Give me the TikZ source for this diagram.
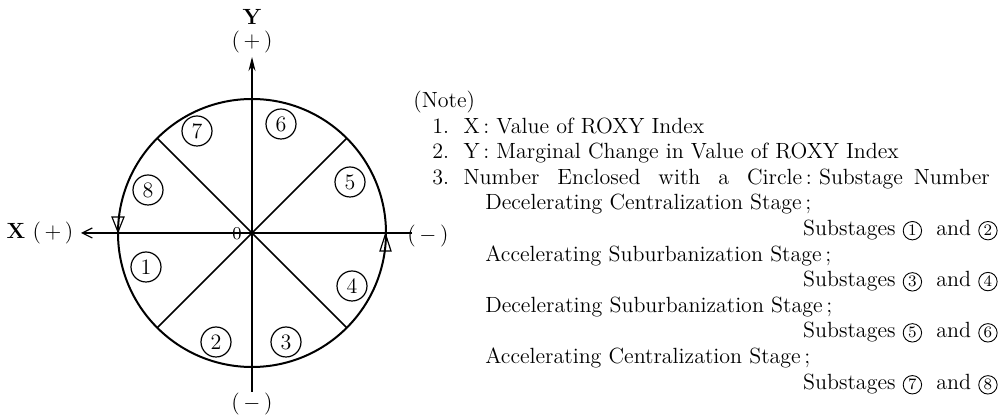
\documentclass[tikz,border=0pt]{standalone}
\usepackage{fontspec}
\usetikzlibrary{arrows.meta}
\newcommand{\cnum}[1]{\tikz[baseline=(cc.base)]\node[draw,circle,anchor=center,inner sep=0pt,line width=0.45pt,minimum size=9.2pt,font=\fontsize{8}{9}\selectfont](cc){#1};}
\begin{document}
\begin{tikzpicture}[x=0.5pt,y=-0.5pt,
  ax/.style={line width=0.6pt},
  rimline/.style={line width=1pt},
  spoke/.style={line width=0.75pt},
  cn/.style={draw,circle,line width=0.6pt,minimum size=15pt,inner sep=0pt,font=\fontsize{11}{12}\selectfont},
  lab/.style={inner sep=0pt,font=\fontsize{11}{12}\selectfont},
  note/.style={anchor=base west,inner sep=0pt,font=\fontsize{11}{12}\selectfont},
  notee/.style={anchor=base east,inner sep=0pt,font=\fontsize{11}{12}\selectfont},
  tri/.style={line width=0.6pt}]
\useasboundingbox (0,0) rectangle (1008,416);
\coordinate (O) at (252,233);
\node[draw,circle,rimline,minimum size=134pt,inner sep=0pt,outer sep=0pt] (rim) at (O) {};
% spokes
\foreach \a in {45,135,225,315} \draw[spoke] (O) -- (rim.\a);
% axes
\coordinate (ybot) at (252,392);
\coordinate (ytop) at (252,57);
\coordinate (xr) at (412,233);
\coordinate (xl) at (81,233);
\draw[ax,-{Stealth[length=7pt,width=3.5pt]}] (ybot) -- (ytop);
\draw[ax,-{Straight Barb[length=5pt,width=5pt]}] (xr) -- (xl);
% labels
\node[lab] (ylab) at (252,17) {\textbf{Y}};
\node[lab] (yplus) at (252,42) {(\,+\,)};
\node[lab] (yminus) at (252,404) {(\,$-$\,)};
\node[lab] (xlab) at (40,233) {\textbf{X}\ (\,+\,)};
\node[lab] (xminus) at (428,236) {(\,$-$\,)};
\node[lab,font=\fontsize{9}{10}\selectfont] (zero) at (237,234) {0};
% direction marks
\draw[tri] (112,217) -- (124,217) -- (118,232) -- cycle;
\draw[tri] (380,251) -- (391,251) -- (385.5,234) -- cycle;
% circled numbers
\node[cn] (c1) at (146,267) {1};
\node[cn] (c2) at (216,342) {2};
\node[cn] (c3) at (286,342) {3};
\node[cn] (c4) at (352,286) {4};
\node[cn] (c5) at (350,182) {5};
\node[cn] (c6) at (281,124) {6};
\node[cn] (c7) at (197,131) {7};
\node[cn] (c8) at (148,190) {8};
% note
\node[note] (n0) at (413,108) {(Note)};
\node[note] (n1) at (432,134) {1.\ \ X\,:\ Value of ROXY Index};
\node[note] (n2) at (432,159) {2.\ \ Y\,:\ Marginal Change in Value of ROXY Index};
\node[note] (n3) at (432,185) {3.\ \ Number\ \ \,Enclosed\ \ \,with\ \ \,a\ \ \,Circle\,:\ Substage\ \,Number};
\node[note] (n4) at (485,210) {Decelerating Centralization Stage\,;};
\node[notee] (n5) at (998,236) {Substages\ \cnum{1}\ \ and\ \cnum{2}};
\node[note] (n6) at (485,262) {Accelerating Suburbanization Stage\,;};
\node[notee] (n7) at (998,287) {Substages\ \cnum{3}\ \ and\ \cnum{4}};
\node[note] (n8) at (485,313) {Decelerating Suburbanization Stage\,;};
\node[notee] (n9) at (998,338) {Substages\ \cnum{5}\ \ and\ \cnum{6}};
\node[note] (n10) at (485,364) {Accelerating Centralization Stage\,;};
\node[notee] (n11) at (998,390) {Substages\ \cnum{7}\ \ and\ \cnum{8}};
\end{tikzpicture}
\end{document}
